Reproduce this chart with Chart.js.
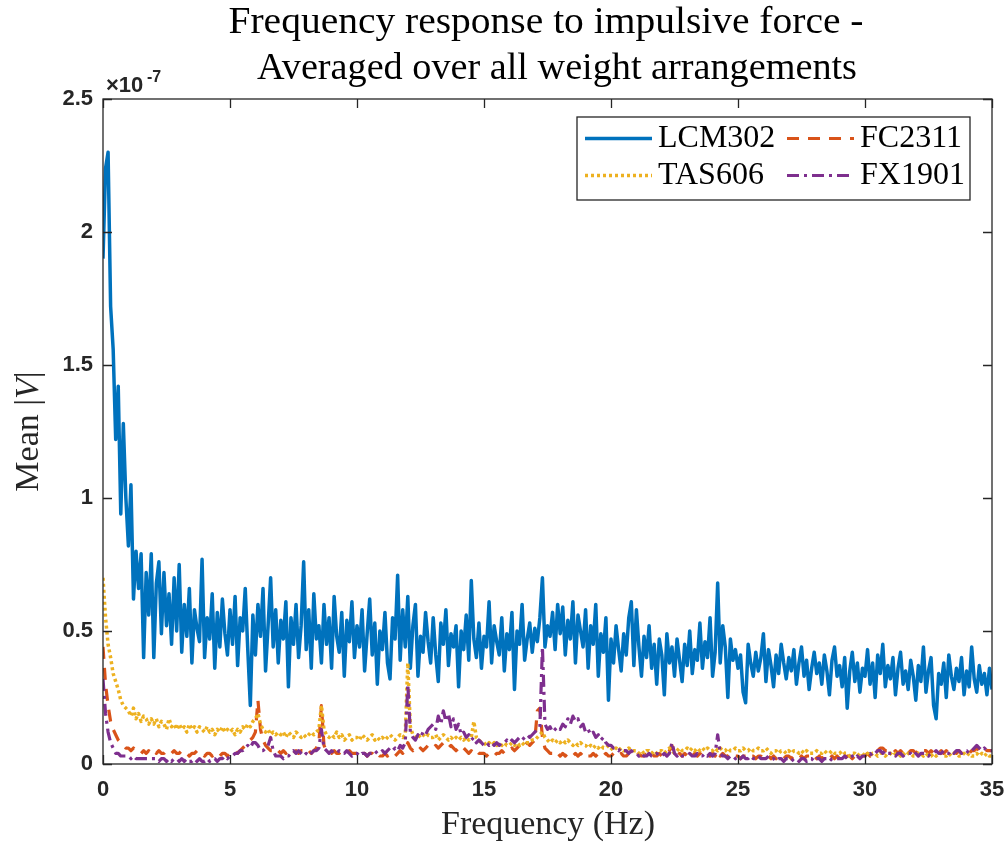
<!DOCTYPE html>
<html lang="en">
<head>
  <meta charset="UTF-8">
  <title>Frequency response to impulsive force</title>
  <style>
    html, body { margin: 0; padding: 0; background: #fff; }
    .chart-container { width: 1008px; height: 846px; }
  </style>
</head>
<body>
  <div class="chart-container">
    <canvas id="freq-chart" width="1008" height="846"></canvas>
  </div>

  <script src="https://cdn.jsdelivr.net/npm/chart.js@4.4.0/dist/chart.umd.min.js"></script>
  <script>
    // mean |V| in units of 1e-7, one value every 0.1 Hz from 0 to 35 Hz
    const FREQ_STEP = 0.1;

    const LCM302 = [
      1.90, 2.24, 2.30, 1.72, 1.56, 1.22, 1.42, 0.94, 1.28, 1.00,
      0.82, 1.05, 0.62, 0.80, 0.66, 0.79, 0.40, 0.72, 0.56, 0.79,
      0.40, 0.68, 0.76, 0.49, 0.72, 0.52, 0.64, 0.45, 0.70, 0.50,
      0.75, 0.42, 0.60, 0.48, 0.66, 0.38, 0.58, 0.51, 0.46, 0.77,
      0.40, 0.55, 0.47, 0.64, 0.36, 0.57, 0.44, 0.62, 0.49, 0.41,
      0.58, 0.45, 0.63, 0.37, 0.55, 0.50, 0.66, 0.43, 0.22, 0.56,
      0.41, 0.60, 0.48, 0.66, 0.35, 0.52, 0.70, 0.44, 0.58, 0.38,
      0.54, 0.47, 0.61, 0.29, 0.55, 0.45, 0.60, 0.40, 0.52, 0.76,
      0.43, 0.58, 0.36, 0.64, 0.47, 0.52, 0.38, 0.60, 0.45, 0.55,
      0.36, 0.63, 0.48, 0.42, 0.57, 0.33, 0.54, 0.46, 0.61, 0.40,
      0.52, 0.44, 0.58, 0.35, 0.49, 0.62, 0.41, 0.53, 0.30, 0.50,
      0.43, 0.57, 0.38, 0.32, 0.55, 0.47, 0.71, 0.39, 0.58, 0.44,
      0.63, 0.36, 0.52, 0.60, 0.33, 0.48, 0.42, 0.57, 0.46, 0.38,
      0.55, 0.41, 0.31, 0.53, 0.45, 0.58, 0.37, 0.49, 0.44, 0.52,
      0.29, 0.50, 0.43, 0.56, 0.39, 0.69, 0.47, 0.40, 0.53, 0.36,
      0.48, 0.44, 0.61, 0.38, 0.52, 0.46, 0.41, 0.55, 0.35, 0.49,
      0.43, 0.57, 0.28, 0.50, 0.45, 0.60, 0.39, 0.47, 0.53, 0.42,
      0.51, 0.46, 0.55, 0.70, 0.44, 0.52, 0.48, 0.57, 0.43, 0.60,
      0.49, 0.59, 0.41, 0.54, 0.47, 0.61, 0.38, 0.56, 0.50, 0.44,
      0.58, 0.36, 0.52, 0.45, 0.60, 0.33, 0.49, 0.42, 0.55, 0.24,
      0.47, 0.38, 0.52, 0.43, 0.35, 0.49, 0.41, 0.55, 0.61, 0.37,
      0.58, 0.44, 0.33, 0.48, 0.40, 0.52, 0.36, 0.45, 0.30, 0.47,
      0.41, 0.26, 0.49, 0.38, 0.44, 0.33, 0.47, 0.39, 0.31, 0.45,
      0.37, 0.50, 0.34, 0.43, 0.39, 0.53, 0.36, 0.46, 0.40, 0.55,
      0.33, 0.42, 0.68, 0.38, 0.52, 0.44, 0.25, 0.47, 0.39, 0.43,
      0.36, 0.41, 0.27, 0.23, 0.45, 0.38, 0.33, 0.42, 0.35, 0.40,
      0.49, 0.31, 0.43, 0.37, 0.29, 0.41, 0.34, 0.45, 0.38, 0.32,
      0.40, 0.35, 0.43, 0.30, 0.38, 0.44, 0.33, 0.39, 0.28, 0.36,
      0.42, 0.34, 0.38, 0.30, 0.41, 0.35, 0.26, 0.39, 0.44, 0.33,
      0.37, 0.29, 0.40, 0.21, 0.35, 0.42, 0.31, 0.38, 0.27, 0.36,
      0.33, 0.43, 0.30, 0.38, 0.25, 0.41, 0.34, 0.45, 0.29, 0.37,
      0.32, 0.40, 0.26, 0.36, 0.42, 0.30, 0.35, 0.28, 0.39, 0.33,
      0.24, 0.37, 0.31, 0.44, 0.27, 0.35, 0.40, 0.22, 0.17, 0.34,
      0.30, 0.38, 0.25, 0.41, 0.33, 0.28, 0.36, 0.31, 0.40, 0.26,
      0.35, 0.29, 0.44, 0.32, 0.27, 0.37, 0.30, 0.34, 0.26, 0.36,
      0.28
    ];

    const FC2311 = [
      0.44, 0.30, 0.22, 0.16, 0.13, 0.11, 0.09, 0.08, 0.07, 0.06,
      0.06, 0.05, 0.06, 0.05, 0.05, 0.04, 0.05, 0.04, 0.05, 0.04,
      0.05, 0.04, 0.05, 0.04, 0.04, 0.05, 0.04, 0.04, 0.05, 0.04,
      0.04, 0.05, 0.04, 0.04, 0.03, 0.04, 0.04, 0.05, 0.04, 0.04,
      0.03, 0.04, 0.04, 0.03, 0.04, 0.04, 0.03, 0.04, 0.04, 0.03,
      0.04, 0.04, 0.05, 0.04, 0.05, 0.06, 0.07, 0.08, 0.09, 0.10,
      0.12, 0.24, 0.13, 0.09, 0.07, 0.06, 0.05, 0.05, 0.04, 0.05,
      0.04, 0.05, 0.04, 0.05, 0.05, 0.04, 0.05, 0.04, 0.05, 0.05,
      0.04, 0.05, 0.04, 0.05, 0.06, 0.08, 0.22, 0.07, 0.05, 0.04,
      0.04, 0.05, 0.04, 0.04, 0.05, 0.04, 0.04, 0.05, 0.04, 0.04,
      0.04, 0.03, 0.04, 0.04, 0.03, 0.04, 0.04, 0.03, 0.04, 0.03,
      0.03, 0.04, 0.03, 0.04, 0.04, 0.03, 0.04, 0.05, 0.04, 0.05,
      0.08, 0.06, 0.05, 0.06, 0.05, 0.06, 0.05, 0.06, 0.07, 0.06,
      0.06, 0.07, 0.06, 0.07, 0.08, 0.07, 0.06, 0.07, 0.06, 0.05,
      0.06, 0.05, 0.06, 0.05, 0.04, 0.05, 0.04, 0.05, 0.04, 0.04,
      0.04, 0.03, 0.04, 0.04, 0.03, 0.04, 0.04, 0.05, 0.04, 0.05,
      0.05, 0.06, 0.05, 0.06, 0.07, 0.06, 0.07, 0.08, 0.07, 0.08,
      0.09, 0.20, 0.21, 0.10, 0.06, 0.05, 0.04, 0.04, 0.03, 0.04,
      0.03, 0.04, 0.03, 0.04, 0.03, 0.03, 0.04, 0.03, 0.04, 0.03,
      0.04, 0.03, 0.03, 0.04, 0.03, 0.04, 0.03, 0.03, 0.04, 0.03,
      0.03, 0.04, 0.03, 0.03, 0.04, 0.03, 0.03, 0.04, 0.03, 0.03,
      0.03, 0.04, 0.03, 0.03, 0.04, 0.03, 0.04, 0.03, 0.03, 0.04,
      0.03, 0.03, 0.04, 0.05, 0.07, 0.04, 0.03, 0.04, 0.03, 0.04,
      0.03, 0.04, 0.03, 0.04, 0.03, 0.04, 0.03, 0.04, 0.04, 0.03,
      0.04, 0.03, 0.05, 0.03, 0.04, 0.03, 0.03, 0.04, 0.03, 0.03,
      0.03, 0.02, 0.03, 0.03, 0.02, 0.03, 0.03, 0.02, 0.03, 0.03,
      0.02, 0.03, 0.03, 0.02, 0.03, 0.02, 0.03, 0.03, 0.02, 0.03,
      0.03, 0.02, 0.03, 0.03, 0.02, 0.03, 0.02, 0.03, 0.03, 0.02,
      0.03, 0.02, 0.03, 0.02, 0.03, 0.03, 0.02, 0.03, 0.02, 0.03,
      0.02, 0.03, 0.02, 0.03, 0.03, 0.02, 0.03, 0.02, 0.03, 0.03,
      0.03, 0.04, 0.03, 0.04, 0.04, 0.05, 0.06, 0.06, 0.05, 0.05,
      0.05, 0.04, 0.05, 0.04, 0.05, 0.04, 0.05, 0.04, 0.05, 0.05,
      0.04, 0.05, 0.04, 0.05, 0.05, 0.04, 0.05, 0.04, 0.05, 0.04,
      0.05, 0.04, 0.05, 0.04, 0.05, 0.05, 0.04, 0.05, 0.04, 0.05,
      0.05, 0.04, 0.05, 0.05, 0.06, 0.05, 0.05, 0.06, 0.05, 0.05,
      0.05
    ];

    const TAS606 = [
      0.70, 0.55, 0.45, 0.40, 0.34, 0.31, 0.28, 0.24, 0.22, 0.21,
      0.20, 0.18, 0.21, 0.17, 0.19, 0.16, 0.18, 0.17, 0.15, 0.17,
      0.15, 0.17, 0.14, 0.16, 0.15, 0.13, 0.17, 0.14, 0.15, 0.13,
      0.15, 0.13, 0.14, 0.12, 0.15, 0.13, 0.14, 0.12, 0.14, 0.13,
      0.12, 0.14, 0.12, 0.13, 0.11, 0.13, 0.12, 0.14, 0.12, 0.13,
      0.12, 0.13, 0.11, 0.13, 0.12, 0.14, 0.13, 0.15, 0.14, 0.16,
      0.17, 0.19, 0.15, 0.13, 0.12, 0.13, 0.11, 0.12, 0.11, 0.12,
      0.11, 0.12, 0.10, 0.12, 0.11, 0.10, 0.12, 0.11, 0.10, 0.11,
      0.10, 0.11, 0.12, 0.11, 0.12, 0.13, 0.22, 0.13, 0.11, 0.10,
      0.11, 0.10, 0.12, 0.10, 0.11, 0.09, 0.10, 0.11, 0.09, 0.10,
      0.10, 0.09, 0.11, 0.10, 0.09, 0.10, 0.11, 0.09, 0.10, 0.09,
      0.10, 0.09, 0.10, 0.11, 0.10, 0.09, 0.10, 0.11, 0.10, 0.11,
      0.38, 0.14, 0.11, 0.10, 0.11, 0.10, 0.11, 0.10, 0.11, 0.10,
      0.10, 0.11, 0.09, 0.10, 0.11, 0.10, 0.09, 0.10, 0.09, 0.10,
      0.09, 0.10, 0.09, 0.10, 0.09, 0.10, 0.16, 0.10, 0.09, 0.08,
      0.08, 0.07, 0.08, 0.07, 0.08, 0.07, 0.08, 0.07, 0.08, 0.07,
      0.07, 0.08, 0.07, 0.08, 0.07, 0.08, 0.07, 0.08, 0.08, 0.09,
      0.09, 0.10, 0.11, 0.12, 0.10, 0.09, 0.08, 0.09, 0.08, 0.09,
      0.08, 0.09, 0.08, 0.09, 0.08, 0.07, 0.08, 0.07, 0.08, 0.07,
      0.07, 0.06, 0.07, 0.06, 0.07, 0.06, 0.07, 0.06, 0.06, 0.07,
      0.06, 0.05, 0.06, 0.05, 0.06, 0.05, 0.05, 0.06, 0.05, 0.05,
      0.05, 0.04, 0.05, 0.04, 0.05, 0.05, 0.04, 0.05, 0.04, 0.05,
      0.05, 0.04, 0.05, 0.06, 0.05, 0.04, 0.05, 0.06, 0.05, 0.05,
      0.06, 0.05, 0.06, 0.05, 0.06, 0.05, 0.06, 0.05, 0.06, 0.05,
      0.05, 0.06, 0.05, 0.06, 0.05, 0.05, 0.06, 0.05, 0.05, 0.06,
      0.05, 0.05, 0.06, 0.05, 0.05, 0.06, 0.05, 0.05, 0.06, 0.05,
      0.05, 0.06, 0.05, 0.04, 0.05, 0.05, 0.04, 0.05, 0.05, 0.04,
      0.05, 0.04, 0.05, 0.05, 0.04, 0.05, 0.04, 0.05, 0.04, 0.04,
      0.04, 0.05, 0.04, 0.04, 0.05, 0.04, 0.04, 0.05, 0.04, 0.04,
      0.04, 0.05, 0.04, 0.04, 0.03, 0.04, 0.04, 0.03, 0.04, 0.04,
      0.03, 0.04, 0.03, 0.04, 0.04, 0.03, 0.04, 0.04, 0.03, 0.04,
      0.04, 0.03, 0.04, 0.04, 0.03, 0.04, 0.03, 0.04, 0.04, 0.03,
      0.03, 0.04, 0.04, 0.03, 0.04, 0.03, 0.03, 0.04, 0.03, 0.04,
      0.04, 0.03, 0.03, 0.04, 0.03, 0.04, 0.04, 0.03, 0.03, 0.04,
      0.03, 0.04, 0.03, 0.03, 0.04, 0.03, 0.04, 0.03, 0.04, 0.03,
      0.03
    ];

    const FX1901 = [
      0.32, 0.19, 0.12, 0.08, 0.06, 0.04, 0.04, 0.03, 0.03, 0.03,
      0.03, 0.02, 0.03, 0.02, 0.02, 0.02, 0.02, 0.02, 0.02, 0.02,
      0.02, 0.02, 0.01, 0.02, 0.02, 0.01, 0.02, 0.01, 0.02, 0.02,
      0.01, 0.02, 0.01, 0.02, 0.01, 0.01, 0.02, 0.01, 0.02, 0.01,
      0.01, 0.02, 0.01, 0.02, 0.02, 0.01, 0.02, 0.02, 0.03, 0.02,
      0.03, 0.03, 0.04, 0.04, 0.05, 0.05, 0.06, 0.07, 0.06, 0.08,
      0.08, 0.07, 0.05, 0.05, 0.06, 0.07, 0.10, 0.05, 0.03, 0.03,
      0.03, 0.02, 0.03, 0.03, 0.04, 0.05, 0.04, 0.05, 0.04, 0.03,
      0.04, 0.03, 0.04, 0.05, 0.05, 0.06, 0.13, 0.06, 0.05, 0.04,
      0.05, 0.04, 0.04, 0.05, 0.04, 0.04, 0.05, 0.04, 0.03, 0.04,
      0.04, 0.03, 0.04, 0.04, 0.03, 0.04, 0.04, 0.05, 0.04, 0.04,
      0.05, 0.04, 0.05, 0.06, 0.05, 0.06, 0.05, 0.07, 0.06, 0.08,
      0.30, 0.12, 0.10, 0.09, 0.11, 0.10, 0.12, 0.11, 0.13, 0.14,
      0.15, 0.13, 0.18, 0.15, 0.20, 0.16, 0.19, 0.14, 0.17, 0.13,
      0.15, 0.11, 0.12, 0.10, 0.11, 0.09, 0.10, 0.08, 0.09, 0.08,
      0.07, 0.08, 0.07, 0.08, 0.07, 0.08, 0.07, 0.08, 0.08, 0.09,
      0.08, 0.09, 0.08, 0.09, 0.10, 0.09, 0.10, 0.11, 0.10, 0.11,
      0.12, 0.13, 0.14, 0.44, 0.15, 0.13, 0.14, 0.12, 0.13, 0.14,
      0.13, 0.15, 0.14, 0.17, 0.15, 0.18, 0.16, 0.17, 0.14, 0.15,
      0.12, 0.13, 0.11, 0.12, 0.10, 0.11, 0.09, 0.10, 0.08, 0.07,
      0.07, 0.06, 0.06, 0.05, 0.06, 0.05, 0.05, 0.04, 0.05, 0.04,
      0.04, 0.03, 0.04, 0.03, 0.03, 0.04, 0.03, 0.03, 0.04, 0.03,
      0.03, 0.04, 0.03, 0.04, 0.08, 0.04, 0.03, 0.04, 0.03, 0.03,
      0.03, 0.04, 0.03, 0.03, 0.04, 0.03, 0.03, 0.04, 0.03, 0.04,
      0.03, 0.04, 0.11, 0.04, 0.03, 0.03, 0.02, 0.03, 0.03, 0.02,
      0.03, 0.02, 0.03, 0.02, 0.02, 0.03, 0.02, 0.02, 0.03, 0.02,
      0.02, 0.02, 0.03, 0.02, 0.02, 0.01, 0.02, 0.02, 0.01, 0.02,
      0.02, 0.01, 0.02, 0.02, 0.01, 0.02, 0.02, 0.01, 0.02, 0.02,
      0.01, 0.02, 0.02, 0.01, 0.02, 0.02, 0.01, 0.02, 0.02, 0.02,
      0.02, 0.02, 0.03, 0.02, 0.02, 0.03, 0.02, 0.03, 0.02, 0.03,
      0.03, 0.03, 0.04, 0.03, 0.04, 0.05, 0.05, 0.04, 0.05, 0.04,
      0.04, 0.04, 0.03, 0.04, 0.04, 0.03, 0.04, 0.04, 0.04, 0.03,
      0.04, 0.03, 0.04, 0.04, 0.04, 0.03, 0.04, 0.04, 0.05, 0.04,
      0.04, 0.05, 0.04, 0.04, 0.05, 0.04, 0.05, 0.05, 0.04, 0.05,
      0.05, 0.04, 0.05, 0.06, 0.07, 0.06, 0.05, 0.06, 0.05, 0.05,
      0.05
    ];

    const X_TICKS = [0, 5, 10, 15, 20, 25, 30, 35];
    const Y_TICKS = [0, 0.5, 1, 1.5, 2, 2.5];

    const AXIS_COLOR = '#262626';
    const TICK_FONT = { family: '"Liberation Sans", Arial, sans-serif', size: 22, weight: 'bold' };
    const SERIF = '"Liberation Serif", "Times New Roman", serif';

    const SERIES = [
      { label: 'LCM302', values: LCM302, color: '#0072BD', dash: [], width: 3.5, order: 4 },
      { label: 'FC2311', values: FC2311, color: '#D95319', dash: [12, 9], width: 3.2, order: 3 },
      { label: 'TAS606', values: TAS606, color: '#EDB120', dash: [3, 3], width: 3.5, order: 2 },
      { label: 'FX1901', values: FX1901, color: '#7E2F8E', dash: [12, 5, 3, 5], width: 3.2, order: 1 },
    ];

    function toPoints(values) {
      return values.map((v, i) => ({ x: +(i * FREQ_STEP).toFixed(1), y: v }));
    }

    function drawLegend(ctx) {
      const box = { x: 577, y: 117, w: 393, h: 83 };
      ctx.fillStyle = '#fff';
      ctx.fillRect(box.x, box.y, box.w, box.h);
      ctx.strokeStyle = AXIS_COLOR;
      ctx.lineWidth = 1.3;
      ctx.setLineDash([]);
      ctx.strokeRect(box.x, box.y, box.w, box.h);

      const cols = [585, 787];
      const lineY = [138.5, 175.5];
      const textY = [147, 184];
      SERIES.forEach((s, i) => {
        const col = i % 2, row = Math.floor(i / 2);
        ctx.beginPath();
        ctx.strokeStyle = s.color;
        ctx.lineWidth = s.width;
        ctx.setLineDash(s.dash);
        ctx.moveTo(cols[col], lineY[row]);
        ctx.lineTo(cols[col] + 67, lineY[row]);
        ctx.stroke();
        ctx.setLineDash([]);
        ctx.fillStyle = '#000';
        ctx.font = `32px ${SERIF}`;
        ctx.textAlign = 'left';
        ctx.textBaseline = 'alphabetic';
        ctx.fillText(s.label, cols[col] + 73, textY[row]);
      });
    }

    // draws text centred on cx, stretched to a given width
    function fitText(ctx, text, cx, y, width) {
      const w = ctx.measureText(text).width;
      ctx.save();
      ctx.translate(cx, y);
      ctx.scale(width / w, 1);
      ctx.textAlign = 'center';
      ctx.fillText(text, 0, 0);
      ctx.restore();
    }

    const decorations = {
      id: 'decorations',
      afterDraw(chart) {
        const { ctx, chartArea: a, scales: { x, y } } = chart;
        ctx.save();

        // axes box with inward ticks
        ctx.strokeStyle = AXIS_COLOR;
        ctx.lineWidth = 1.3;
        ctx.setLineDash([]);
        ctx.strokeRect(a.left, a.top, a.right - a.left, a.bottom - a.top);
        ctx.beginPath();
        for (const v of X_TICKS) {
          const px = Math.round(x.getPixelForValue(v)) + 0.5;
          ctx.moveTo(px, a.bottom); ctx.lineTo(px, a.bottom - 9);
          ctx.moveTo(px, a.top); ctx.lineTo(px, a.top + 9);
        }
        for (const v of Y_TICKS) {
          const py = Math.round(y.getPixelForValue(v)) + 0.5;
          ctx.moveTo(a.left, py); ctx.lineTo(a.left + 9, py);
          ctx.moveTo(a.right, py); ctx.lineTo(a.right - 9, py);
        }
        ctx.stroke();

        drawLegend(ctx);

        // title
        ctx.fillStyle = '#000';
        ctx.textBaseline = 'alphabetic';
        ctx.font = `37px ${SERIF}`;
        fitText(ctx, 'Frequency response to impulsive force -', 546, 33, 635);
        fitText(ctx, 'Averaged over all weight arrangements', 557, 79, 600);

        // exponent of the y axis
        ctx.fillStyle = AXIS_COLOR;
        ctx.textAlign = 'left';
        ctx.font = `bold 22px "Liberation Sans", Arial, sans-serif`;
        ctx.fillText('\u00d710', 106, 92);
        ctx.font = `bold 16px "Liberation Sans", Arial, sans-serif`;
        ctx.fillText('-7', 147, 82);

        // x axis title
        ctx.fillStyle = AXIS_COLOR;
        ctx.font = `34px ${SERIF}`;
        fitText(ctx, 'Frequency (Hz)', 548, 834, 214);

        // y axis title, with an italic V
        ctx.translate(38, (a.top + a.bottom) / 2);
        ctx.rotate(-Math.PI / 2);
        const parts = [
          { t: 'Mean |', f: `34px ${SERIF}` },
          { t: 'V', f: `italic 34px ${SERIF}` },
          { t: '|', f: `34px ${SERIF}` },
        ];
        let total = 0;
        for (const p of parts) { ctx.font = p.f; p.w = ctx.measureText(p.t).width; total += p.w; }
        let cx = -total / 2;
        ctx.textAlign = 'left';
        for (const p of parts) { ctx.font = p.f; ctx.fillText(p.t, cx, 0); cx += p.w; }

        ctx.restore();
      }
    };

    const ctx = document.getElementById('freq-chart');
    new Chart(ctx, {
      type: 'line',
      data: {
        datasets: SERIES.map(s => ({
          label: s.label,
          data: toPoints(s.values),
          borderColor: s.color,
          borderWidth: s.width,
          borderDash: s.dash,
          order: s.order,
          fill: false,
          pointRadius: 0,
          tension: 0,
        }))
      },
      plugins: [decorations],
      options: {
        responsive: false,
        animation: false,
        devicePixelRatio: 1,
        layout: { padding: { top: 99, right: 16, left: 0, bottom: 0 } },
        elements: { line: { borderCapStyle: 'butt', borderJoinStyle: 'round' } },
        plugins: {
          legend: { display: false },
          tooltip: { enabled: false },
        },
        scales: {
          x: {
            type: 'linear',
            min: 0,
            max: 35,
            grid: { display: false, drawTicks: false },
            border: { display: false },
            ticks: { stepSize: 5, padding: 13, color: AXIS_COLOR, font: TICK_FONT, maxRotation: 0 },
            afterFit: (scale) => {
              scale.height = 82;
              scale.paddingLeft = 0;
              scale.paddingRight = 0;
            }
          },
          y: {
            min: 0,
            max: 2.5,
            grid: { display: false, drawTicks: false },
            border: { display: false },
            ticks: {
              stepSize: 0.5,
              padding: 10,
              color: AXIS_COLOR,
              font: TICK_FONT,
              callback: (v) => String(+v.toFixed(1))
            },
            afterFit: (scale) => {
              scale.width = 103;
              scale.paddingTop = 0;
              scale.paddingBottom = 0;
            }
          }
        }
      }
    });
  </script>
</body>
</html>
